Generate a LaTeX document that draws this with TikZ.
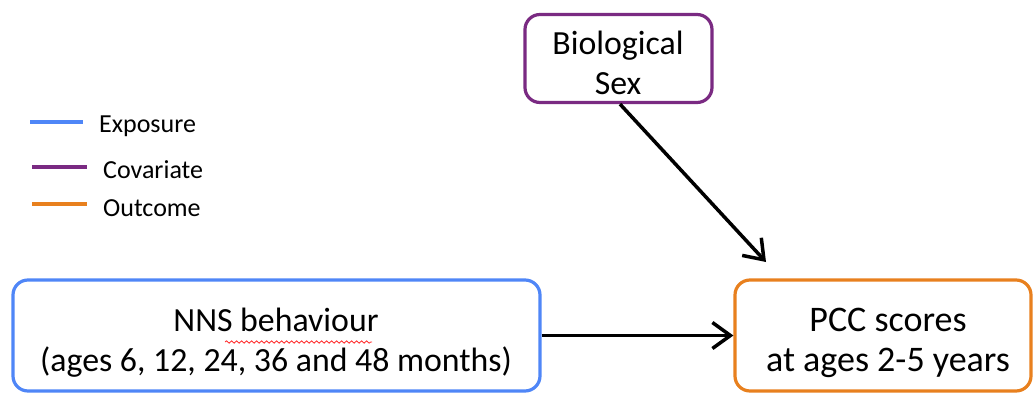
\documentclass[tikz,border=0pt]{standalone}
\usepackage{fontspec}
\setmainfont{Carlito}
\usetikzlibrary{arrows.meta,decorations.pathmorphing}
\definecolor{expblue}{HTML}{4F86F7}
\definecolor{covpurple}{HTML}{7A2A82}
\definecolor{outorange}{HTML}{E8801E}
\tikzset{
  box/.style={draw, line width=3.2pt, rounded corners=15pt, inner sep=0pt},
  boxtext/.style={align=center, inner sep=0pt, font=\fontsize{#1}{40}\selectfont},
  conn/.style={line width=3.5pt, -{Straight Barb[length=18pt,width=26pt,line width=3.5pt]}},
  legline/.style={line width=3.5pt},
  legtext/.style={anchor=west, inner sep=0pt, font=\fontsize{26}{30}\selectfont}
}
\begin{document}
\begin{tikzpicture}[x=1pt,y=-1pt]
\useasboundingbox (0,0) rectangle (1034,394);
\node[box, draw=covpurple, minimum width=187pt, minimum height=88pt] (sex) at (618.5,58.5) {};
\node[boxtext=33.8] (sextext) at (618,63) {Biological\\Sex};
\node[box, draw=expblue, minimum width=527pt, minimum height=111pt] (nns) at (276.5,335.5) {};
\node[boxtext=33.8] (nnstext) at (276,343) {NNS behaviour\\(ages 6, 12, 24, 36 and 48 months)};
\node[box, draw=outorange, minimum width=296pt, minimum height=111pt] (pcc) at (883,335.5) {};
\node[boxtext=36] (pcctext) at (888,343) {PCC scores\\at ages 2-5 years};
\coordinate (sexend) at (766,262);
\draw[conn] (sex.south -| 620,0) -- (sexend);
\draw[conn] (nns.east) -- (pcc.west);
% legend
\draw[legline, expblue] (30,122) -- (83,122);
\node[legtext] (lexp) at (99,126) {Exposure};
\draw[legline, covpurple] (32,167) -- (87,167);
\node[legtext] (lcov) at (103,170) {Covariate};
\draw[legline, outorange] (32,204) -- (87,204);
\node[legtext] (lout) at (103,208) {Outcome};
% spell-check underline
\draw[red!85!white, line width=0.8pt, decorate, decoration={snake, amplitude=1.2pt, segment length=5pt}] (225,342) -- (372,342);
\end{tikzpicture}
\end{document}
